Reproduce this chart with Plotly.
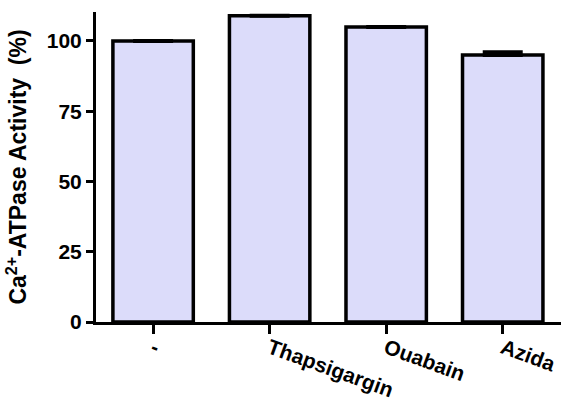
import plotly.graph_objects as go

# Ca2+-ATPase activity under different inhibitors (% of control)
treatments = ["-", "Thapsigargin", "Ouabain", "Azida"]
activity = [100, 109, 105, 95]
err_upper = [0, 0, 0, 1]

ytick_vals = [0, 25, 50, 75, 100]

fig = go.Figure()
fig.add_trace(go.Bar(
    x=treatments,
    y=activity,
    width=0.69,
    marker=dict(color="rgb(220,220,250)", line=dict(color="black", width=3.5)),
    error_y=dict(type="data", symmetric=False, array=err_upper,
                 arrayminus=[0, 0, 0, 0], color="black", thickness=4, width=20),
))

fam = "Liberation Sans, Arial, sans-serif"

fig.update_layout(
    width=562, height=405,
    margin=dict(l=96, r=1, t=12, b=83),
    plot_bgcolor="white", paper_bgcolor="white",
    showlegend=False,
)
fig.update_xaxes(
    type="category",
    range=[-0.49, 3.5],
    automargin=False,
    showline=True, linecolor="black", linewidth=3,
    ticks="outside", ticklen=9, tickwidth=3, tickcolor="black",
    tickangle=20,
    ticklabelstandoff=-6,
    tickfont=dict(family=fam, size=21, color="black", weight="bold"),
    showgrid=False, zeroline=False,
)
fig.update_yaxes(
    range=[0, 110.3],
    automargin=False,
    tickvals=ytick_vals,
    showline=True, linecolor="black", linewidth=3,
    ticks="outside", ticklen=7, tickwidth=3, tickcolor="black",
    tickfont=dict(family=fam, size=21, color="black", weight="bold"),
    title=dict(text="Ca<sup>2+</sup>-ATPase Activity  (%)",
               font=dict(family=fam, size=23, color="black", weight="bold"),
               standoff=14),
    showgrid=False, zeroline=False,
)

fig.write_html("out.html")
